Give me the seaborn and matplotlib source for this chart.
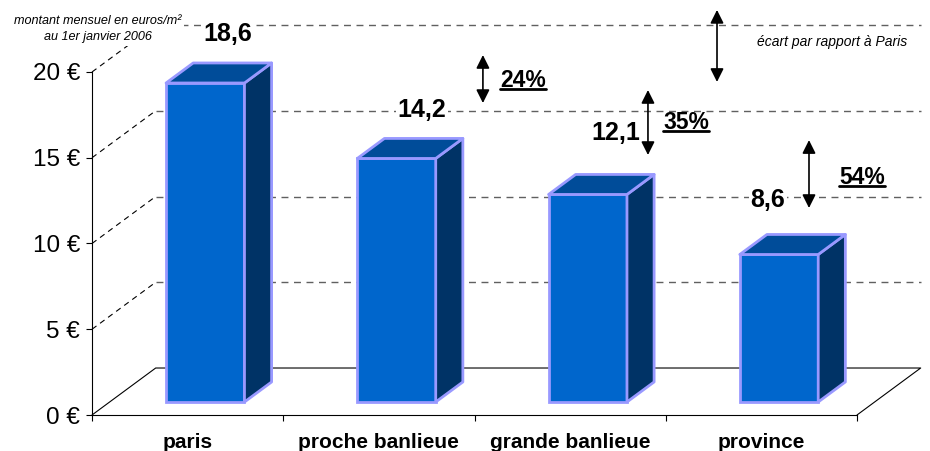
import numpy as np
import pandas as pd
import seaborn as sns
import matplotlib.pyplot as plt
from matplotlib.patches import Polygon
from matplotlib.lines import Line2D

# données
zones = ['paris', 'proche banlieue', 'grande banlieue', 'province']
loyers = [18.6, 14.2, 12.1, 8.6]
ecarts = ['24%', '35%', '54%']
paliers = [0, 5, 10, 15, 20]

# placement des étiquettes de valeur (décalage par rapport au haut de la barre)
lab_dx = [0.21, 0.225, 0.24, 0.035]
lab_dy = [3.6, 3.6, 4.35, 3.95]
# flèches d'écart : x, bas, haut  / position du pourcentage
fl_x = [1.544, 2.407, 3.249]
fl_y = [(18.19, 20.99), (15.16, 18.95), (12.07, 16.03)]
pc_xy = [(1.754, 19.53), (2.606, 17.03), (3.526, 13.82)]

# perspective façon excel 3D
DX, DY = 0.333, 2.74      # profondeur totale du fond
F0, FB = 0.277, 0.426     # position / épaisseur des barres dans la profondeur

sns.set_style('white')
plt.rcParams['font.family'] = ['Liberation Sans', 'DejaVu Sans']
plt.rcParams['text.color'] = 'black'
plt.rcParams['xtick.color'] = 'black'
plt.rcParams['ytick.color'] = 'black'
plt.rcParams['axes.edgecolor'] = 'black'

fig = plt.figure(figsize=(9.3, 4.51), dpi=100)
ax = fig.add_axes([92 / 930, 36 / 451, 765 / 930, 410 / 451])

# murs du fond + sol
for v in paliers[1:]:
    ax.plot([-0.5, -0.5 + DX], [v, v + DY], ls=(0, (5, 4)), color='black', lw=0.8, zorder=1, clip_on=False)
    ax.plot([-0.5 + DX, 3.5 + DX], [v + DY, v + DY], ls=(0, (5, 4)), color='#606060', lw=1, zorder=1, clip_on=False)
ax.plot([-0.5, -0.5 + DX, 3.5 + DX, 3.5], [0, DY, DY, 0], color='black', lw=0.8, zorder=1, clip_on=False)

df = pd.DataFrame({'zone': zones, 'loyer': loyers})
sns.barplot(data=df, x='zone', y='loyer', width=0.41, color='#0066CC', saturation=1,
            edgecolor='#9999FF', linewidth=2, zorder=3, ax=ax)

# faces de côté et du dessus
for p in ax.patches:
    x0 = p.get_x() + F0 * DX
    y0 = F0 * DY
    p.set_x(x0)
    p.set_y(y0)
    x1 = x0 + p.get_width()
    y1 = y0 + p.get_height()
    bx, by = FB * DX, FB * DY
    side = Polygon([(x1, y0), (x1 + bx, y0 + by), (x1 + bx, y1 + by), (x1, y1)], closed=True,
                   facecolor='#003366', edgecolor='#9999FF', lw=2, zorder=3, joinstyle='round')
    top = Polygon([(x0, y1), (x1, y1), (x1 + bx, y1 + by), (x0 + bx, y1 + by)], closed=True,
                  facecolor='#004C99', edgecolor='#9999FF', lw=2, zorder=3, joinstyle='round')
    ax.add_patch(side)
    ax.add_patch(top)

ax.set_xlim(-0.5, 3.5)
ax.set_ylim(0, 410 / 17.15)
sns.despine(ax=ax)
ax.spines['left'].set_bounds(0, 20)
ax.spines['left'].set_linewidth(0.8)
ax.spines['bottom'].set_linewidth(0.8)
ax.set_xlabel('')
ax.set_ylabel('')

ax.set_yticks(paliers)
ax.set_yticklabels([f'{v} €' for v in paliers], fontsize=17.5)
ax.tick_params(axis='y', length=4.3, width=0.8, pad=4.3, direction='out', left=True)
ax.set_xticks(np.arange(-0.5, 4, 1), minor=True)
ax.tick_params(axis='x', which='minor', length=4, width=0.8, direction='out', bottom=True)
ax.tick_params(axis='x', which='major', length=0, pad=13)
for lab in ax.get_xticklabels():
    lab.set_fontsize(15)
    lab.set_fontweight('bold')

# valeurs
for i, v in enumerate(loyers):
    ax.text(i + lab_dx[i], v + lab_dy[i], f'{v:.1f}'.replace('.', ','), ha='center', va='center',
            fontsize=18, fontweight='bold', zorder=5,
            bbox=dict(facecolor='white', edgecolor='none', pad=1.5))

# écarts par rapport à paris
arrow = dict(arrowstyle='<|-|>', color='black', lw=1.2, mutation_scale=20, shrinkA=0, shrinkB=0)
pct_txt = []
for x, (yb, yh), (px, py), e in zip(fl_x, fl_y, pc_xy, ecarts):
    ax.annotate('', xy=(x, yh), xytext=(x, yb), arrowprops=arrow, annotation_clip=False, zorder=6)
    pct_txt.append(ax.text(px, py, e, ha='center', va='center', fontsize=16.5, fontweight='bold', zorder=5))

ax.annotate('', xy=(2.768, 23.62), xytext=(2.768, 19.42), arrowprops=arrow, annotation_clip=False, zorder=6)
ax.text(3.369, 21.75, 'écart par rapport à Paris', ha='center', va='center', fontsize=10,
        fontstyle='italic', zorder=5)
ax.text(-0.47, 22.5, 'montant mensuel en euros/m²\nau 1er janvier 2006', ha='center', va='center',
        fontsize=9.1, fontstyle='italic', linespacing=1.4, zorder=5,
        bbox=dict(facecolor='white', edgecolor='none', pad=2))

# soulignement des pourcentages
fig.canvas.draw()
r = fig.canvas.get_renderer()
inv = fig.transFigure.inverted()
for t in pct_txt:
    bb = t.get_window_extent(r)
    (a, b), (c, d) = inv.transform([(bb.x0, bb.y0 + 3), (bb.x1, bb.y0 + 3)])
    fig.add_artist(Line2D([a, c], [b, d], color='black', lw=2))

fig.savefig('out.png', dpi=100)
